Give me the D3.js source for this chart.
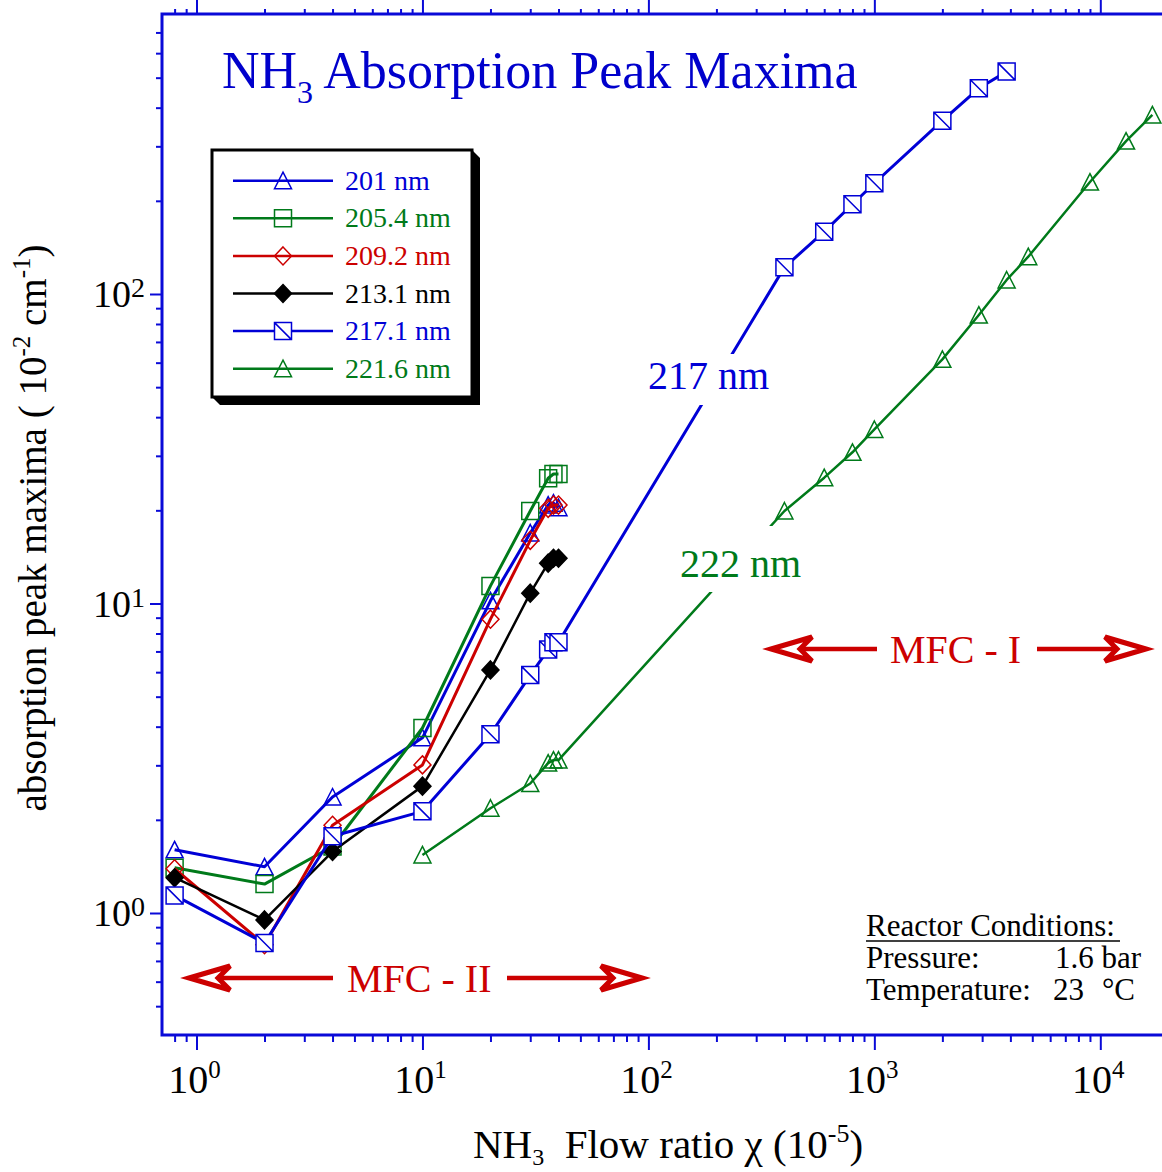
<!DOCTYPE html>
<html>
<head>
<meta charset="utf-8">
<script src="https://cdn.jsdelivr.net/npm/d3@7"></script>
<style>
  html, body { margin: 0; padding: 0; background: #fff; }
  svg { display: block; }
  text { font-family: "Liberation Serif", "Times New Roman", serif; }
</style>
</head>
<body>
<svg id="chart" width="1162" height="1172"></svg>
<script>
// NH3 flow ratio (10^-5) and absorption peak maxima (10^-2 cm^-1) per wavelength
const flowLow = [0.8, 2, 4, 10, 20, 30, 36, 38, 40];
const peak201 = [1.60, 1.41, 2.37, 3.68, 10.2, 16.9, 20.8, 21.1, 20.4];
const peak205 = [1.40, 1.24, 1.64, 3.96, 11.4, 19.9, 25.4, 26.2, 26.2];
const peak209 = [1.39, 0.79, 1.92, 3.01, 8.9, 16.0, 20.3, 20.8, 20.8];
const peak213 = [1.30, 0.95, 1.58, 2.57, 6.1, 10.8, 13.5, 14.0, 14.0];
const flow217 = [0.8, 2, 4, 10, 20, 30, 36, 38, 40, 400, 600, 800, 1000, 2000, 2900, 3850];
const peak217 = [1.14, 0.80, 1.77, 2.13, 3.78, 5.87, 7.1, 7.5, 7.5, 122, 159, 195, 228, 363, 462, 523];
const flow222 = [10, 20, 30, 36, 38, 40, 400, 600, 800, 1000, 2000, 2900, 3850, 4800, 9000, 13000, 17000];
const peak222 = [1.54, 2.18, 2.62, 3.05, 3.12, 3.12, 19.9, 25.5, 30.8, 36.5, 61.5, 85.5, 111, 132, 230, 312, 379];

const seriesLabels = ["201 nm", "205.4 nm", "209.2 nm", "213.1 nm", "217.1 nm", "221.6 nm"];
const xMajorTicks = [1, 10, 100, 1000, 10000];
const xTickExponents = ["0", "1", "2", "3", "4"];
const yMajorTicks = [1, 10, 100];
const yTickExponents = ["0", "1", "2"];

const BLUE = "#0000d6", GREEN = "#007a1a", RED = "#cc0000", BLACK = "#000000", AXIS = "#0a0ad8";

const svg = d3.select("#chart");
const L = 162, R = 1162, T = 14, B = 1035;

const x = d3.scaleLog().domain([1, 1e4]).range([196.5, 1100.3]);
const y = d3.scaleLog().domain([1, 100]).range([913, 294]);

// minor tick positions: 2..9 within each decade that falls inside the frame
function minorTicks(scale, lo, hi) {
  const out = [];
  for (let e = -1; e <= 5; e++) {
    for (let m = 2; m <= 9; m++) {
      const v = m * Math.pow(10, e);
      const p = scale(v);
      if (p >= lo && p <= hi) out.push(v);
    }
  }
  return out;
}
const xMinor = minorTicks(x, L + 2, R);
const yMinor = minorTicks(y, T + 2, B - 2);

// ---------- axes ----------
const axesG = svg.append("g");
function styleAxis(g) {
  g.select(".domain").remove();
  g.selectAll(".tick line").attr("stroke", AXIS).attr("stroke-width", 2);
  g.selectAll(".tick text").remove();
}
axesG.append("g").attr("transform", `translate(0,${B})`)
  .call(d3.axisBottom(x).tickValues(xMinor).tickSize(7).tickFormat("")).call(styleAxis);
axesG.append("g").attr("transform", `translate(0,${B})`)
  .call(d3.axisBottom(x).tickValues(xMajorTicks).tickSize(15).tickFormat("")).call(styleAxis);
axesG.append("g").attr("transform", `translate(0,${T})`)
  .call(d3.axisTop(x).tickValues(xMinor).tickSize(5).tickFormat("")).call(styleAxis);
axesG.append("g").attr("transform", `translate(0,${T})`)
  .call(d3.axisTop(x).tickValues(xMajorTicks).tickSize(14).tickFormat("")).call(styleAxis);
axesG.append("g").attr("transform", `translate(${L},0)`)
  .call(d3.axisLeft(y).tickValues(yMinor).tickSize(6).tickFormat("")).call(styleAxis);
axesG.append("g").attr("transform", `translate(${L},0)`)
  .call(d3.axisLeft(y).tickValues(yMajorTicks).tickSize(12).tickFormat("")).call(styleAxis);

// frame lines
axesG.append("path")
  .attr("d", `M${R},${T}H${L}V${B}H${R}`)
  .attr("fill", "none").attr("stroke", AXIS).attr("stroke-width", 3);

// x tick labels
xMajorTicks.forEach((v, i) => {
  const t = svg.append("text").attr("x", x(v) - 2).attr("y", 1093)
    .attr("text-anchor", "middle").attr("font-size", 40).attr("fill", "#000");
  t.append("tspan").text("10");
  t.append("tspan").attr("font-size", 25).attr("dy", -15).text(xTickExponents[i]);
});
// y tick labels
yMajorTicks.forEach((v, i) => {
  const t = svg.append("text").attr("x", 145).attr("y", y(v) + 13)
    .attr("text-anchor", "end").attr("font-size", 38).attr("fill", "#000");
  t.append("tspan").text("10");
  t.append("tspan").attr("font-size", 28).attr("dy", -10).text(yTickExponents[i]);
});

// axis titles
const xt = svg.append("text").attr("x", 668).attr("y", 1158)
  .attr("text-anchor", "middle").attr("font-size", 41).attr("fill", "#000");
xt.append("tspan").text("NH");
xt.append("tspan").attr("font-size", 24).attr("dy", 7).text("3");
xt.append("tspan").attr("dy", -7).text("\u00a0\u00a0Flow ratio \u03c7 (10");
xt.append("tspan").attr("font-size", 26).attr("dy", -16).text("-5");
xt.append("tspan").attr("dy", 16).text(")");

const yt = svg.append("text").attr("transform", "translate(46,528) rotate(-90)")
  .attr("text-anchor", "middle").attr("font-size", 39).attr("fill", "#000");
yt.append("tspan").text("absorption peak maxima ( 10");
yt.append("tspan").attr("font-size", 25).attr("dy", -16).text("-2");
yt.append("tspan").attr("dy", 16).text(" cm");
yt.append("tspan").attr("font-size", 25).attr("dy", -16).text("-1");
yt.append("tspan").attr("dy", 16).text(")");

// chart title
const title = svg.append("text").attr("x", 222).attr("y", 88)
  .attr("font-size", 52).attr("fill", "#0000cc");
title.append("tspan").text("NH");
title.append("tspan").attr("font-size", 32).attr("dy", 15).text("3");
title.append("tspan").attr("dy", -15).text(" Absorption Peak Maxima");

// ---------- data ----------
svg.append("clipPath").attr("id", "plotClip")
  .append("rect").attr("x", L).attr("y", T).attr("width", R - L).attr("height", B - T);

function markerPath(type) {
  const s = 8.5;
  switch (type) {
    case "triangle": return `M0,${-s}L${s},${s - 0.5}L${-s},${s - 0.5}Z`;
    case "square": return `M${-s},${-s}H${s}V${s}H${-s}Z`;
    case "diamond": return `M0,${-s - 0.5}L${s},0L0,${s + 0.5}L${-s},0Z`;
    case "slash": return `M${-s},${-s}H${s}V${s}H${-s}ZM${-s},${-s}L${s},${s}`;
  }
}

const series = [
  { label: seriesLabels[0], flow: flowLow, peak: peak201, color: BLUE, marker: "triangle", fill: "none", lw: 3 },
  { label: seriesLabels[1], flow: flowLow, peak: peak205, color: GREEN, marker: "square", fill: "none", lw: 3 },
  { label: seriesLabels[2], flow: flowLow, peak: peak209, color: RED, marker: "diamond", fill: "none", lw: 3 },
  { label: seriesLabels[3], flow: flowLow, peak: peak213, color: BLACK, marker: "diamond", fill: BLACK, lw: 2.5 },
  { label: seriesLabels[4], flow: flow217, peak: peak217, color: BLUE, marker: "slash", fill: "#fff", lw: 3 },
  { label: seriesLabels[5], flow: flow222, peak: peak222, color: GREEN, marker: "triangle", fill: "none", lw: 2.5 }
];

const line = d3.line().x(d => x(d[0])).y(d => y(d[1]));
const dataG = svg.append("g").attr("clip-path", "url(#plotClip)");
series.forEach(s => {
  const pts = s.flow.map((f, i) => [f, s.peak[i]]);
  dataG.append("path").datum(pts).attr("d", line)
    .attr("fill", "none").attr("stroke", s.color).attr("stroke-width", s.lw)
    .attr("stroke-linejoin", "round");
  dataG.selectAll(null).data(pts).enter().append("path")
    .attr("transform", d => `translate(${x(d[0])},${y(d[1])})`)
    .attr("d", markerPath(s.marker))
    .attr("fill", s.fill).attr("stroke", s.color).attr("stroke-width", 1.5);
});

// ---------- curve labels with white backing ----------
function boxedLabel(text, tx, ty, box, color) {
  svg.append("rect").attr("x", box[0]).attr("y", box[1]).attr("width", box[2]).attr("height", box[3]).attr("fill", "#fff");
  svg.append("text").attr("x", tx).attr("y", ty).attr("font-size", 40).attr("fill", color).text(text);
}
boxedLabel("217 nm", 648, 389, [640, 354, 138, 51], BLUE);
boxedLabel("222 nm", 680, 577, [672, 526, 136, 66], GREEN);

// ---------- MFC range arrows ----------
function rangeArrow(cy, x0, x1, textX, text, shaftL, shaftR) {
  const g = svg.append("g").attr("stroke", RED).attr("fill", "none");
  const h = 12, back = 41, notch = 29;
  g.append("path").attr("stroke-width", 5).attr("stroke-linejoin", "miter")
    .attr("d", `M${x0},${cy}L${x0 + back},${cy - h}L${x0 + notch},${cy}L${x0 + back},${cy + h}Z`);
  g.append("path").attr("stroke-width", 5).attr("stroke-linejoin", "miter")
    .attr("d", `M${x1},${cy}L${x1 - back},${cy - h}L${x1 - notch},${cy}L${x1 - back},${cy + h}Z`);
  g.append("line").attr("stroke-width", 4.5).attr("x1", x0 + notch).attr("x2", shaftL).attr("y1", cy).attr("y2", cy);
  g.append("line").attr("stroke-width", 4.5).attr("x1", shaftR).attr("x2", x1 - notch).attr("y1", cy).attr("y2", cy);
  svg.append("text").attr("x", textX).attr("y", cy + 13.5).attr("font-size", 40).attr("fill", RED).text(text);
}
rangeArrow(978, 189, 642, 347, "MFC - II", 333, 507);
rangeArrow(649, 771, 1146, 890, "MFC - I", 877, 1037);

// ---------- legend ----------
const lg = svg.append("g");
lg.append("path").attr("d", "M472,150L480,158L480,405L220,405L212,397L472,397Z").attr("fill", "#000");
lg.append("rect").attr("x", 212).attr("y", 150).attr("width", 260).attr("height", 247)
  .attr("fill", "#fff").attr("stroke", "#000").attr("stroke-width", 3);
series.forEach((s, i) => {
  const cy = 180.7 + i * 37.6;
  lg.append("line").attr("x1", 233).attr("x2", 333).attr("y1", cy).attr("y2", cy)
    .attr("stroke", s.color).attr("stroke-width", 2.5);
  lg.append("path").attr("transform", `translate(283,${cy})`).attr("d", markerPath(s.marker))
    .attr("fill", s.fill === "none" ? "none" : s.fill).attr("stroke", s.color).attr("stroke-width", 1.5);
  lg.append("text").attr("x", 345).attr("y", cy + 9).attr("font-size", 28).attr("fill", s.color).text(s.label);
});

// ---------- reactor conditions ----------
const rc = svg.append("g").attr("font-size", 31).attr("fill", "#000");
rc.append("text").attr("x", 866).attr("y", 936).text("Reactor Conditions:");
rc.append("line").attr("x1", 866).attr("x2", 1120).attr("y1", 941).attr("y2", 941).attr("stroke", "#000").attr("stroke-width", 1.5);
rc.append("text").attr("x", 866).attr("y", 968).text("Pressure:");
rc.append("text").attr("x", 1141).attr("y", 968).attr("text-anchor", "end").text("1.6 bar");
rc.append("text").attr("x", 866).attr("y", 1000).text("Temperature:");
rc.append("text").attr("x", 1053).attr("y", 1000).text("23");
rc.append("text").attr("x", 1135).attr("y", 1000).attr("text-anchor", "end").text("\u00b0C");
</script>
</body>
</html>
